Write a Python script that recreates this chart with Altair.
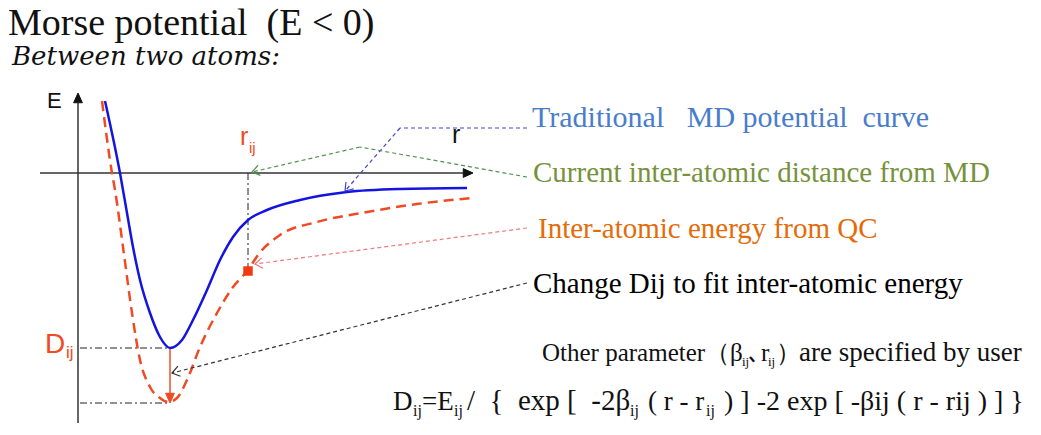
import math
import altair as alt
import pandas as pd

NB = "\u00a0"

# ---------------- data (r: horizontal position from E axis, E: energy above r axis) ----------
blue_r = [27, 42, 49, 55, 62, 72, 82, 92, 104, 115, 129, 142, 155, 170, 189, 222, 269, 322, 389]
blue_E = [72, 0, -40, -74, -107, -140, -164, -175, -167, -147, -117, -87, -64, -47, -37, -27, -19, -16, -15]

red_r = [24, 34, 37, 45, 54, 62, 72, 82, 90, 99, 109, 122, 139, 155, 170, 180, 202, 239, 289, 339, 394]
red_E = [72, 0, -17, -74, -140, -187, -214, -225, -229, -225, -207, -174, -140, -114, -97, -82, -62, -49, -39, -31, -25]

qc_point = (170, -98)          # inter-atomic energy from QC at r_ij
d_old, d_new = -175, -230      # well depths (blue / fitted)
r_min = 92

axis_x = [(-38, 0), (386, 0)]
axis_y = [(0, -250), (0, 70)]
x_tip, y_tip = (395, 0), (0, 80)

dashdot = [((170, 0), (170, -98)), ((2, d_old), (r_min, d_old)), ((2, d_new), (r_min, d_new))]
shift = ((r_min, d_old - 1), (r_min, d_new + 8))
shift_tip = (r_min, d_new)

ptr_blue = [(449, 45), (322, 45), (267, -18)]
ptr_green = [(449, -4), (282, 26), (174, 1)]
ptr_pink = [(449, -55), (177, -91)]
ptr_black = [(449, -110), (94, -200)]

title = "Morse potential" + NB + " (E < 0)"
subtitle = "Between two atoms:"
labels = ["Traditional" + NB + NB + " MD potential" + NB + " curve",
          "Current inter-atomic distance from MD",
          "Inter-atomic energy from QC",
          "Change Dij to fit inter-atomic energy"]
label_pos = [(454, 46), (455, -9), (460, -65), (455, -120)]
label_colors = ["#4A7DC9", "#76923C", "#E36C09", "#000000"]
label_sizes = [30, 29, 29, 29]

other_main = ["Other parameter（β", "､r", "）"]
other_main_r = [464, 670, 698]
other_tail = "are specified by user"
other_tail_r = 721
other_sub = ["ij", "ij"]
other_sub_r = [664, 690]

formula_main = ["D", "=E", "( r - r"]
formula_main_r = [315, 344, 570]
formula_mid = "/" + NB + " {" + NB + " exp [" + NB + " -2β"
formula_mid_r = 389
formula_tail = ") ] -2 exp [ -βij ( r - rij ) ] }"
formula_tail_r = 646
formula_sub = ["ij", "ij", "ij", "ij"]
formula_sub_r = [335, 376, 552, 628]

# ---------------- scales ----------------
W, H = 1025, 415
xs = alt.Scale(domain=[-70, 955], nice=False, zero=False)
ys = alt.Scale(domain=[-250, 165], nice=False, zero=False)


def X(f="r"):
    return alt.X(f"{f}:Q", scale=xs, axis=None)


def Y(f="E"):
    return alt.Y(f"{f}:Q", scale=ys, axis=None)


def segs(pairs, **props):
    df = pd.DataFrame([{"r": a[0], "E": a[1], "r2": b[0], "E2": b[1]} for a, b in pairs])
    return alt.Chart(df).mark_rule(**props).encode(x=X(), y=Y(), x2="r2:Q", y2="E2:Q")


def poly(points):
    return list(zip(points[:-1], points[1:]))


def heads(tips, shape, **props):
    rows = []
    for (prev, tip) in tips:
        ang = math.degrees(math.atan2(-(tip[1] - prev[1]), tip[0] - prev[0])) % 360
        rows.append({"r": tip[0], "E": tip[1], "angle": ang})
    df = pd.DataFrame(rows)
    return alt.Chart(df).mark_point(shape=shape, **props).encode(
        x=X(), y=Y(), angle=alt.Angle("angle:Q", scale=None))


def texts(items, **props):
    df = pd.DataFrame([{"t": t, "r": p[0], "E": p[1]} for t, p in items])
    base = dict(align="left", baseline="alphabetic")
    base.update(props)
    return alt.Chart(df).mark_text(**base).encode(x=X(), y=Y(), text="t:N")


CHEV = "M-1,-0.7L0,0L-1,0.7"
TRI = "M0,0L-1,-0.45L-1,0.45Z"

layers = []

# axes
layers.append(segs([tuple(axis_x), tuple(axis_y)], color="#333333", strokeWidth=1.5))
layers.append(heads([((0, 0), x_tip), ((0, 0), y_tip)], TRI, filled=True, size=380,
                    fill="#111111", stroke="#111111", fillOpacity=1, strokeOpacity=1, strokeWidth=1))

# dash-dot guides
layers.append(segs(dashdot, color="#222222", strokeWidth=1, strokeDash=[7, 3, 2, 3]))

# curves
curves = pd.DataFrame({"r": blue_r, "E": blue_E})
layers.append(alt.Chart(curves).mark_line(color="#1414E0", strokeWidth=2.5, interpolate="monotone")
              .encode(x=X(), y=Y()))
curves_red = pd.DataFrame({"r": red_r, "E": red_E})
layers.append(alt.Chart(curves_red).mark_line(color="#F04A24", strokeWidth=2.5, strokeDash=[10, 6],
                                              interpolate="monotone").encode(x=X(), y=Y()))

# depth change arrow
layers.append(segs([shift], color="#E8502A", strokeWidth=1.5))
layers.append(heads([(shift[0], shift_tip)], TRI, filled=True, size=380,
                    fill="#F04A24", stroke="#F04A24", fillOpacity=1, strokeOpacity=1, strokeWidth=1))

# QC point
qc = pd.DataFrame([{"r": qc_point[0], "E": qc_point[1]}])
layers.append(alt.Chart(qc).mark_square(size=90, color="#F03A10", opacity=1).encode(x=X(), y=Y()))

# pointer lines
for pts, col in [(ptr_blue, "#4444D0"), (ptr_green, "#4E944E"), (ptr_pink, "#EE7A7A"),
                 (ptr_black, "#333333")]:
    layers.append(segs(poly(pts), color=col, strokeWidth=1.2, strokeDash=[4, 3]))
    layers.append(heads([(pts[-2], pts[-1])], CHEV, filled=False, size=220, color=col,
                        strokeWidth=1.2, opacity=1))

# texts
layers.append(texts([(title, (-70, 138))], font="Liberation Serif", fontSize=38, color="#111111"))
layers.append(texts([(subtitle, (-66, 108))], font="DejaVu Serif", fontStyle="italic",
                    fontSize=26, color="#111111"))
layers.append(texts([("E", (-31, 65))], font="Liberation Sans", fontSize=22, color="#111111"))
layers.append(texts([("r", (374, 30))], font="Liberation Sans", fontSize=25, color="#111111"))
layers.append(texts([("r", (162, 28))], font="Liberation Sans", fontSize=25, color="#EE4B22"))
layers.append(texts([("ij", (171, 20))], font="Liberation Sans", fontSize=15, color="#EE4B22"))
layers.append(texts([("D", (-33, -180))], font="Liberation Sans", fontSize=28, color="#EE4B22"))
layers.append(texts([("ij", (-12, -185))], font="Liberation Sans", fontSize=17, color="#EE4B22"))

for t, p, c, s in zip(labels, label_pos, label_colors, label_sizes):
    layers.append(texts([(t, p)], font="Liberation Serif", fontSize=s, color=c))

layers.append(texts(list(zip(other_main, [(r, -188) for r in other_main_r])),
                    font="Liberation Serif", fontSize=25, color="#111111"))
layers.append(texts([(other_tail, (other_tail_r, -188))],
                    font="Liberation Serif", fontSize=27, color="#111111"))
layers.append(texts(list(zip(other_sub, [(r, -193) for r in other_sub_r])),
                    font="Liberation Serif", fontSize=13, color="#111111"))
layers.append(texts(list(zip(formula_main, [(r, -237) for r in formula_main_r])),
                    font="Liberation Serif", fontSize=27, color="#111111"))
layers.append(texts([(formula_mid, (formula_mid_r, -237))],
                    font="Liberation Serif", fontSize=29, color="#111111"))
layers.append(texts([(formula_tail, (formula_tail_r, -237))],
                    font="Liberation Serif", fontSize=28, color="#111111"))
layers.append(texts(list(zip(formula_sub, [(r, -243) for r in formula_sub_r])),
                    font="Liberation Serif", fontSize=16, color="#111111"))

chart = alt.layer(*layers).properties(
    width=W, height=H, padding=0, autosize=alt.AutoSizeParams(type="none"),
    background="white"
).configure_view(stroke=None)

chart.save("out.html", embed_options={"renderer": "svg", "actions": False})
